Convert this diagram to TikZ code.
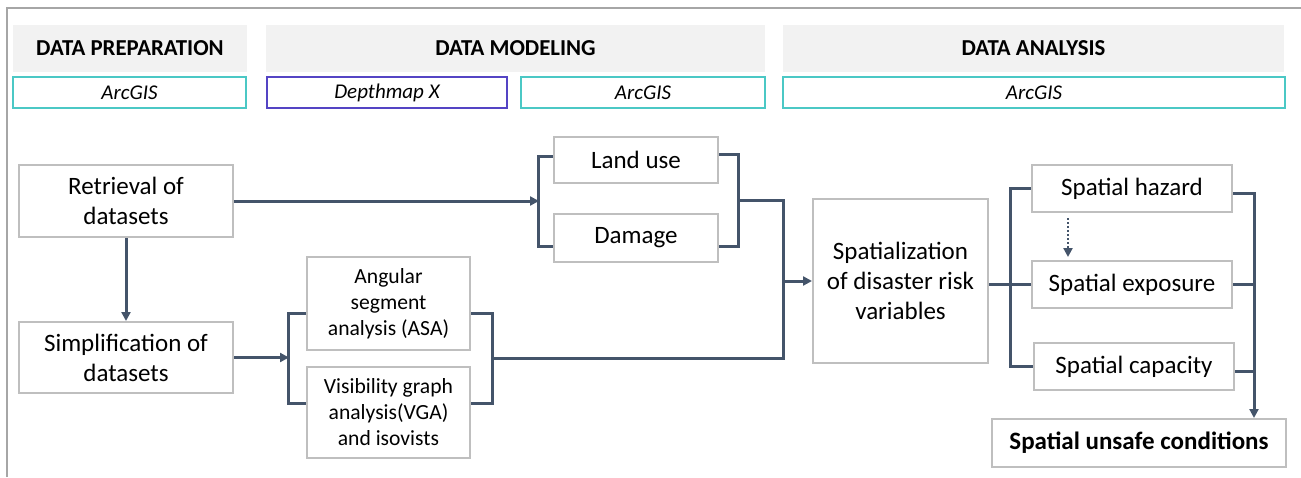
\documentclass[tikz,border=0pt]{standalone}
\usepackage{fontspec}
\setmainfont{Carlito}
\usetikzlibrary{arrows.meta}

\definecolor{flow}{HTML}{44546A}
\definecolor{boxline}{HTML}{BFBFBF}
\definecolor{framegray}{HTML}{A6A6A6}
\definecolor{hdrfill}{HTML}{F2F2F2}
\definecolor{toolteal}{HTML}{4BC8C5}
\definecolor{toolviolet}{RGB}{84,68,196}

\begin{document}
\begin{tikzpicture}[x=0.5pt,y=-0.5pt,
  hdr/.style={fill=hdrfill, draw=none, minimum height=23.5pt, inner sep=0pt,
    font=\fontsize{11.4}{13}\selectfont\bfseries},
  tool/.style={fill=white, line width=1pt, minimum height=15.5pt, inner sep=0pt,
    font=\fontsize{10.5}{12}\selectfont\itshape},
  box/.style={draw=boxline, line width=1pt, fill=white, align=center, inner sep=0pt,
    font=\fontsize{12.5}{15}\selectfont},
  smallbox/.style={box, font=\fontsize{10.8}{13}\selectfont},
  flowline/.style={draw=flow, line width=1.5pt},
  flowarrow/.style={flowline, -{Triangle[length=4.5pt,width=4.5pt]}},
  dotarrow/.style={draw=flow, line width=1.2pt, dash pattern=on 1pt off 1pt,
    -{Triangle[length=4.5pt,width=4.5pt]}, shorten <=2.5pt, shorten >=1.5pt}
]
\useasboundingbox (0,0) rectangle (1301,477);

% outer frame
\draw[framegray, line width=0.75pt] (7,477) -- (7,8) -- (1301,8);

% phase headers
\node[hdr, minimum width=117pt]   (hprep) at (130,48.5)    {DATA PREPARATION};
\node[hdr, minimum width=249.5pt] (hmod)  at (515.5,48.5)  {DATA MODELING};
\node[hdr, minimum width=250.5pt] (hana)  at (1033.5,48.5) {DATA ANALYSIS};

% software used in each phase
\node[tool, draw=toolteal,   minimum width=116.5pt] (tprep) at (129.5,92.5) {ArcGIS};
\node[tool, draw=toolviolet, minimum width=120pt]   (tdep)  at (387,92.5)   {Depthmap X};
\node[tool, draw=toolteal,   minimum width=122pt]   (tmod)  at (643,92.5)   {ArcGIS};
\node[tool, draw=toolteal,   minimum width=251pt]   (tana)  at (1034,92.5)  {ArcGIS};

% process boxes
\node[box, minimum width=107pt, minimum height=36pt]   (ret)  at (126,201)     {Retrieval of\\datasets};
\node[box, minimum width=107pt, minimum height=35.5pt] (simp) at (126,357.5)   {Simplification of\\datasets};
\node[smallbox, minimum width=81.5pt, minimum height=46.5pt] (asa) at (388.5,303.5) {Angular\\segment\\analysis (ASA)};
\node[smallbox, minimum width=81.5pt, minimum height=45.5pt] (vga) at (388.5,412.5) {Visibility graph\\analysis(VGA)\\and isovists};
\node[box, minimum width=82pt, minimum height=23pt]   (land) at (636,160) {Land use};
\node[box, minimum width=82pt, minimum height=24pt]   (dmg)  at (636,238) {Damage};
\node[box, minimum width=87.5pt, minimum height=82pt] (spz)  at (900.5,281) {Spatialization\\of disaster risk\\variables};
\node[box, minimum width=100pt, minimum height=23.5pt] (haz) at (1132,188.5) {Spatial hazard};
\node[box, minimum width=100pt, minimum height=23.5pt] (exp) at (1132,284.5) {Spatial exposure};
\node[box, minimum width=100pt, minimum height=23.5pt] (cap) at (1134,366.5) {Spatial capacity};
\node[box, minimum width=147pt, minimum height=24pt, font=\fontsize{12.5}{15}\selectfont\bfseries]
  (uns) at (1139,443) {Spatial unsafe conditions};

% junction points
\coordinate (lulj)  at (539,201);
\coordinate (lurj)  at (737,200);
\coordinate (asalj) at (289,358);
\coordinate (asarj) at (491,358);
\coordinate (merge) at (783,280);
\coordinate (dx)    at (1068,0);

% preparation
\draw[flowarrow] (ret.south) -- (simp.north);
\draw[flowarrow] (ret.east) -- (ret.east -| lulj);
\draw[flowarrow] (simp.east) -- (simp.east -| asalj);

% land use / damage bracket
\draw[flowline] ([yshift=2pt]land.west) -- ++(-15,0) |- ([yshift=-4pt]dmg.west);
\draw[flowline] ([yshift=3pt]land.east) -- ++(19,0) |- ([yshift=-4pt]dmg.east);

% ASA / VGA bracket
\draw[flowline] ([yshift=-4.75pt]asa.west) -- ++(-18,0) |- ([yshift=4.75pt]vga.west);
\draw[flowline] ([yshift=-4.75pt]asa.east) -- ++(21,0) |- ([yshift=4.75pt]vga.east);

% merge into spatialization
\draw[flowline] (lurj) -| (merge) |- (asarj);
\draw[flowarrow] (spz.west -| merge) -- (spz.west);

% analysis
\draw[flowline] (spz.east |- exp.west) -- (exp.west);
\draw[flowline] (haz.west) -- ++(-21,0) |- (cap.west);
\draw[flowarrow] ([yshift=-2.25pt]haz.east) -- ++(21,0) coordinate (rtop) -- (rtop |- uns.north);
\draw[flowline] (exp.east) -- (exp.east -| rtop);
\draw[flowline] ([yshift=-2.25pt]cap.east) -- ([yshift=-2.25pt]cap.east -| rtop);
\draw[dotarrow] (haz.south -| dx) -- (exp.north -| dx);
\end{tikzpicture}
\end{document}
